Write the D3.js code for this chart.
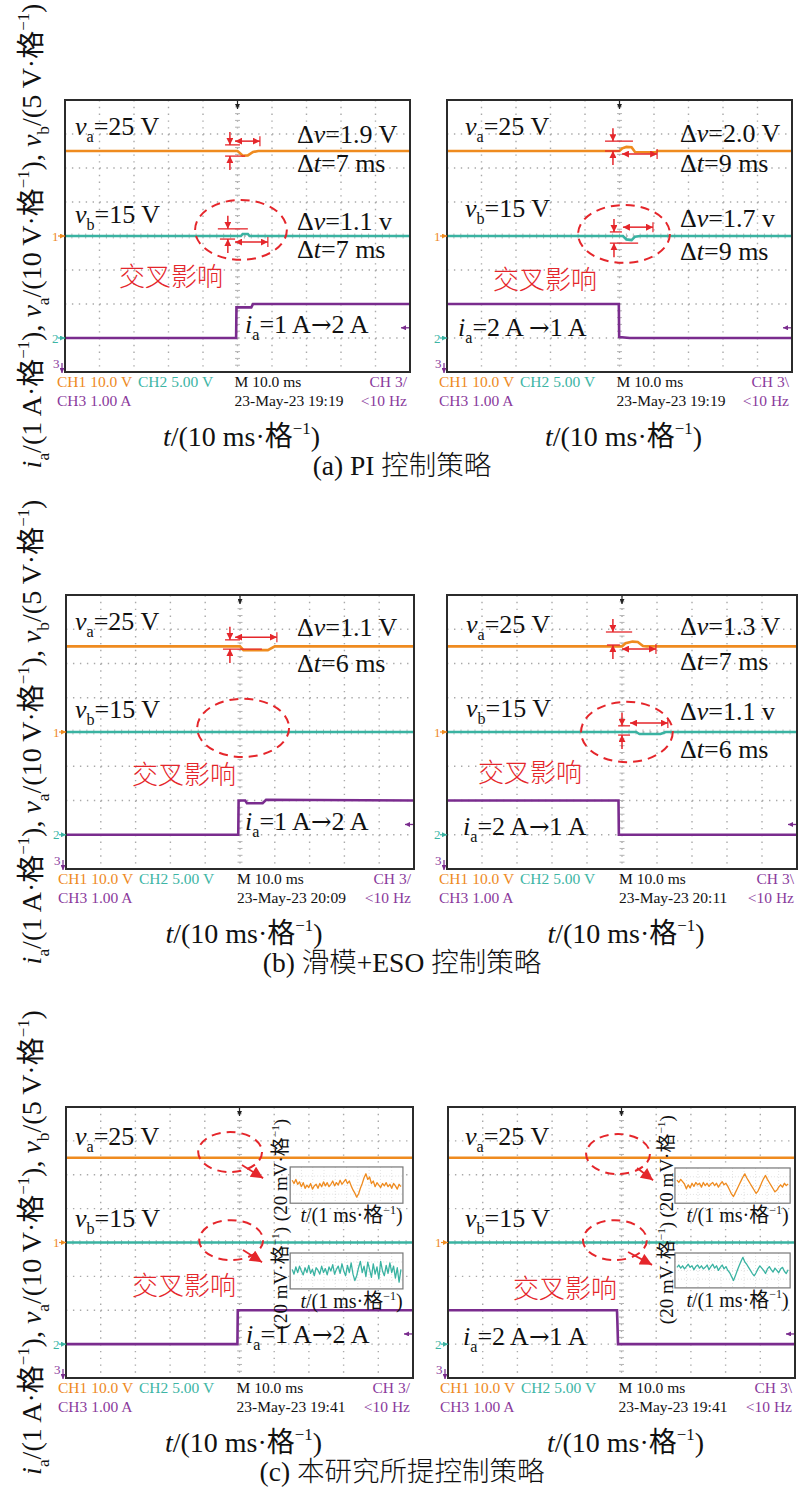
<!DOCTYPE html>
<html><head><meta charset="utf-8">
<script src="https://cdn.jsdelivr.net/npm/d3@7"></script>
<style>body{margin:0;background:#fff}svg{display:block}</style>
</head><body>
<svg id="chart" width="800" height="1491"></svg>
<script>
// ================= DATA =================
const rowCaptions = ["(a) PI 控制策略", "(b) 滑模+ESO 控制策略", "(c) 本研究所提控制策略"];
const yAxisLabel = "*i*_{a}/(1 A·格^{−1}), *v*_{a}/(10 V·格^{−1}), *v*_{b}/(5 V·格^{−1})";
const xAxisLabel = "*t*/(10 ms·格^{−1})";
const insetXLabel = "*t*/(1 ms·格^{−1})";
const insetYLabel = "(20 mV·格^{−1})";
const crossLabel = "交叉影响";
const chTexts = ["CH1 10.0 V", "CH2 5.00 V", "CH3 1.00 A", "M 10.0 ms", "<10 Hz"];
const timeStamps = ["23-May-23 19:19", "23-May-23 19:19", "23-May-23 20:09", "23-May-23 20:11", "23-May-23 19:41", "23-May-23 19:41"];
const trigSlopes = ["CH 3/", "CH 3\\", "CH 3/", "CH 3\\", "CH 3/", "CH 3\\"];
const vaLabel = "*v*_{a}=25 V";
const vbLabel = "*v*_{b}=15 V";
const iaLabels = ["*i*_{a}=1 A→2 A", "*i*_{a}=2 A →1 A", "*i*_{a}=1 A→2 A", "*i*_{a}=2 A→1 A", "*i*_{a}=1 A→2 A", "*i*_{a}=2 A→1 A"];
const dvLabels1 = ["Δ*v*=1.9 V", "Δ*v*=2.0 V", "Δ*v*=1.1 V", "Δ*v*=1.3 V", null, null];
const dtLabels1 = ["Δ*t*=7 ms", "Δ*t*=9 ms", "Δ*t*=6 ms", "Δ*t*=7 ms", null, null];
const dvLabels2 = ["Δ*v*=1.1 v", "Δ*v*=1.7 v", null, "Δ*v*=1.1 v", null, null];
const dtLabels2 = ["Δ*t*=7 ms", "Δ*t*=9 ms", null, "Δ*t*=6 ms", null, null];

// channel settings: units per division and ground position (divisions from centre)
const chPerDiv = [10, 5, 1];
const chGround = [0, -3, -4];
const trigLevel = 1.3; // A

// traces: [time (ms), value]
const vaTraces = [
  [[-50,25],[0,25],[0.5,24.6],[1.5,23.6],[3,23.7],[4.5,24.7],[6,25],[50,25]],
  [[-50,25],[0,25],[0.8,25.8],[2,26.2],[3.5,26.1],[4.5,24.7],[10.5,24.6],[11,25],[50,25]],
  [[-50,25],[0,25],[1,23.9],[8,23.9],[10,25],[50,25]],
  [[-50,25],[0,25],[1,25.9],[3,26.4],[4.5,26.3],[6,25.1],[7,25],[50,25]],
  [[-50,25],[50,25]],
  [[-50,25],[50,25]]
];
const vbTraces = [
  [[-50,15],[1,15],[1.5,15.3],[3,15.3],[3.5,15],[50,15]],
  [[-50,15],[1,15],[2,14.5],[3.5,14.4],[4.5,14.9],[6,15],[50,15]],
  [[-50,15],[50,15]],
  [[-50,15],[4,15],[5,14.7],[11,14.7],[12.5,15],[50,15]],
  [[-50,15],[50,15]],
  [[-50,15],[50,15]]
];
const iaTraces = [
  [[-50,1],[-0.4,1],[-0.3,1.9],[4,1.9],[4.5,2],[50,2]],
  [[-50,2],[-0.2,2],[-0.1,1.03],[3,1.0],[50,1]],
  [[-50,1],[-0.5,1],[-0.4,2.0],[1.5,2],[2,1.92],[6.5,1.92],[7.5,2.02],[50,2]],
  [[-50,2],[-1,2],[-0.9,1.0],[50,1]],
  [[-50,1],[-0.6,1],[-0.5,2],[50,2]],
  [[-50,2],[-1.3,2],[-1.2,1.7],[-1.0,1],[50,1]]
];
// zoomed insets (20 mV/div, normalised -1..1)
const insetVaC1 = [0.3,0.1,0.35,0.05,0.2,-0.1,0.15,-0.2,0.0,-0.15,0.1,-0.25,-0.05,0.05,-0.2,0.1,-0.1,0.2,-0.05,0.15,-0.1,0.05,0.25,-0.05,0.15,0.0,0.3,0.05,0.2,0.35,0.1,0.25,-0.05,-0.3,-0.5,-0.75,-0.55,-0.2,0.1,0.45,0.7,0.35,0.5,0.1,0.25,-0.1,0.15,0.0,-0.15,0.1,-0.05,0.15,-0.1,0.05,-0.2,0.1,-0.05,-0.25,0.05,-0.1];
const insetVbC1 = [0.1,-0.2,0.25,-0.1,0.3,0.0,-0.25,0.2,-0.1,0.35,-0.15,0.1,-0.3,0.2,0.05,-0.2,0.3,-0.1,0.15,-0.25,0.25,0.0,0.4,-0.2,0.1,0.3,-0.15,0.45,0.0,-0.3,0.35,-0.1,0.5,-0.2,-0.6,-0.3,0.2,0.6,-0.1,0.3,-0.35,0.55,0.1,-0.4,0.45,-0.2,0.25,-0.5,0.6,0.0,-0.3,0.35,-0.15,0.5,-0.1,0.3,-0.45,0.2,-0.7,0.1];
const insetVaC2 = [0.35,0.2,0.4,0.25,0.1,-0.2,0.05,-0.15,0.15,-0.05,0.2,0.05,0.15,-0.1,0.2,0.0,0.15,-0.05,0.1,0.2,0.0,0.15,-0.1,0.1,0.25,0.05,0.15,-0.05,-0.3,-0.55,-0.7,-0.45,-0.2,0.05,0.3,0.55,0.75,0.5,0.3,0.1,-0.1,-0.3,-0.5,-0.35,-0.1,0.2,0.45,0.65,0.4,0.2,0.0,-0.2,-0.4,-0.3,-0.1,0.05,-0.1,0.15,0.0,0.1];
const insetVbC2 = [0.2,0.35,0.15,0.3,0.1,0.25,0.4,0.2,0.3,0.05,0.25,0.35,0.15,0.3,0.1,0.2,0.35,0.05,0.25,0.4,0.15,0.3,0.0,0.2,0.35,0.1,0.25,0.0,-0.15,-0.4,-0.65,-0.35,0.0,0.3,0.6,0.85,0.55,0.4,0.2,0.0,-0.2,-0.35,-0.15,0.1,0.3,0.15,0.0,-0.2,0.1,0.25,0.05,-0.1,0.15,0.0,-0.15,0.1,0.2,-0.05,-0.2,0.05];

// ================= LAYOUT / STYLE =================
const ORANGE = "#EF8B1F", TEAL = "#3AB3A2", PURPLE = "#7A2C8E", RED = "#E5262B";
const ORANGE_T = "#EE8A1E", TEAL_T = "#3DB5A5", PURPLE_T = "#8A3A9C";
const FONT = "'Liberation Serif','Times New Roman','Noto Sans CJK SC',serif";
const CJK = "'Noto Sans CJK SC',sans-serif";
const ARROW_FONT = "'DejaVu Serif','DejaVu Sans',serif";

const frames = [
  {x0:65, x1:410, y0:100, y1:372}, {x0:447, x1:792, y0:100, y1:372},
  {x0:66, x1:414, y0:595, y1:869}, {x0:447, x1:797, y0:595, y1:869},
  {x0:66, x1:413, y0:1107, y1:1378}, {x0:448, x1:795, y0:1107, y1:1378}
];
// text offsets relative to frame top-left
const vaPos = [[10,35],[18,35],[9,35],[19,38],[9,38],[17,38]];
const vbPos = [[10,123],[18,117],[9,123],[19,122],[9,120],[17,120]];
const dv1Pos = [[232,43],[233,42],[231,41],[233,40]];
const dt1Pos = [[232,72],[233,72],[231,77],[233,75]];
const dv2Pos = [[232,130],[233,127],null,[233,125]];
const dt2Pos = [[232,158],[233,160],null,[233,163]];
const crossPos = [[54,186],[46,189],[66,189],[31,187],[66,188],[65,191]];
const iaPos = [[180,233],[11,236],[179,235],[16,240],[180,236],[15,238]];
// annotations in (ms, div) units
const annOrange = [
  {vx:-2.2, top:[2.68,-3.6,0.7], bot:[2.35,-3.6,2.2], dt:[2.79,-0.7,6.5]},
  {vx:-1.9, top:[2.79,-4.2,3.9], bot:[2.5,-4.2,0.1], dt:[2.41,0.7,10.9]},
  {vx:-2.9, top:[2.69,-4.3,0], bot:[2.42,-4.9,6.3], dt:[2.77,-1.4,10.6]},
  {vx:-2.6, top:[2.92,-4.6,2.9], bot:[2.54,-4.3,-0.6], dt:[2.42,0,9.7]},
  null, null];
const annTeal = [
  {vx:-2.8, top:[0.21,-5.7,3.0], bot:[-0.09,-5.1,-0.7], dt:[-0.18,-0.7,8.8]},
  {vx:-1.6, top:[0.12,-2.8,0.7], bot:[-0.21,-2.8,5.4], dt:[0.26,1.0,9.7]},
  null,
  {vx:0, top:[0.18,-1.1,2.3], bot:[-0.09,-1.1,2.3], dt:[0.26,2.3,13.1]},
  null, null];
const ellipses = [
  [{t:1.0,d:0.18,rt:13.3,rd:0.88}],
  [{t:1.3,d:0.06,rt:13.3,rd:0.85}],
  [{t:0.9,d:0.12,rt:13.2,rd:0.85}],
  [{t:1.4,d:0,rt:13.1,rd:0.88}],
  [{t:-2.7,d:2.67,rt:9.2,rd:0.59},{t:-2.4,d:0.07,rt:9.2,rd:0.59}],
  [{t:-1.0,d:2.61,rt:9.2,rd:0.59},{t:-1.9,d:0.07,rt:9.2,rd:0.59}]
];
const bigArrows = [[],[],[],[],
  [[[0.7,2.29],[6.8,1.9]],[[1.0,-0.22],[6.5,-0.58]]],
  [[[4.5,2.2],[9.1,1.84]],[[1.9,-0.28],[8.8,-0.66]]]];
const insets = [[],[],[],[],
  [{t0:14.6,t1:47.1,d0:1.16,d1:2.23,data:insetVaC1,color:ORANGE,labT:13.7,labD:2.14},
   {t0:14.6,t1:47.1,d0:-1.37,d1:-0.31,data:insetVbC1,color:TEAL,labT:13.7,labD:-1.05}],
  [{t0:15.4,t1:48.6,d0:1.16,d1:2.2,data:insetVaC2,color:ORANGE,labT:14.8,labD:2.25},
   {t0:15.4,t1:48.6,d0:-1.34,d1:-0.31,data:insetVbC2,color:TEAL,labT:14.8,labD:-0.9}]];

// ================= HELPERS =================
const svg = d3.select("#chart");
const defs = svg.append("defs");
function marker(id, w, h, color){
  defs.append("marker").attr("id", id).attr("viewBox","0 0 10 10").attr("refX",10).attr("refY",5)
    .attr("markerUnits","userSpaceOnUse").attr("markerWidth",w).attr("markerHeight",h)
    .attr("orient","auto-start-reverse")
    .append("path").attr("d","M0,0L10,5L0,10z").attr("fill",color);
}
marker("arR",7,7,RED); marker("arBig",13,12,RED); marker("arK",5,5,"#222");
marker("arO",5,5,ORANGE); marker("arT",5,5,TEAL); marker("arP",5,5,PURPLE);

function rich(sel, str, fs){
  const re = /\*([^*]+)\*|_\{([^}]*)\}|\^\{([^}]*)\}|(→)|([^*_^→]+)/g;
  let m, shift = 0;
  while ((m = re.exec(str))){
    let t, italic = false, target = 0, size = fs, fam = null;
    if (m[1] !== undefined){ t = m[1]; italic = true; }
    else if (m[2] !== undefined){ t = m[2]; target = 0.28*fs; size = 0.62*fs; }
    else if (m[3] !== undefined){ t = m[3]; target = -0.42*fs; size = 0.6*fs; }
    else if (m[4] !== undefined){ t = m[4]; fam = ARROW_FONT; size = 0.95*fs; }
    else t = m[5];
    const ts = sel.append("tspan").text(t).attr("font-size", size).attr("dy", target - shift);
    if (italic) ts.attr("font-style","italic");
    if (fam) ts.attr("font-family", fam);
    shift = target;
  }
  return sel;
}
function txt(g, x, y, str, fs, opts={}){
  const t = g.append("text").attr("x",x).attr("y",y).attr("font-family", opts.family||FONT)
    .attr("font-size",fs).attr("fill",opts.fill||"#111").attr("text-anchor",opts.anchor||"start");
  if (opts.transform) t.attr("transform", opts.transform);
  if (opts.plain) t.text(str); else rich(t, str, fs);
  return t;
}

// ================= DRAW =================
frames.forEach((f, p) => {
  const g = svg.append("g");
  const x = d3.scaleLinear().domain([-50,50]).range([f.x0, f.x1]);
  const y = d3.scaleLinear().domain([-4,4]).range([f.y1, f.y0]);
  const divX = (f.x1-f.x0)/10, divY = (f.y1-f.y0)/8;
  const cx = x(0), cy = y(0);

  // grid
  d3.range(-40,50,10).forEach(t => {
    g.append("line").attr("x1",x(t)).attr("x2",x(t)).attr("y1",f.y0).attr("y2",f.y1)
      .attr("stroke","#a9a9a9").attr("stroke-width",1.4).attr("stroke-dasharray",`1.4 ${divY/5-1.4}`);
  });
  d3.range(-3,4,1).forEach(d => {
    g.append("line").attr("y1",y(d)).attr("y2",y(d)).attr("x1",f.x0).attr("x2",f.x1)
      .attr("stroke","#a9a9a9").attr("stroke-width",1.4).attr("stroke-dasharray",`1.4 ${divX/5-1.4}`);
  });
  d3.range(-20,21).forEach(k => {
    const yy = y(k/5);
    g.append("line").attr("x1",cx-2.5).attr("x2",cx+2.5).attr("y1",yy).attr("y2",yy).attr("stroke","#b5b5b5").attr("stroke-width",1);
  });
  d3.range(-25,26).forEach(k => {
    const xx = x(k*2);
    g.append("line").attr("y1",cy-2.5).attr("y2",cy+2.5).attr("x1",xx).attr("x2",xx).attr("stroke","#b5b5b5").attr("stroke-width",1);
  });

  // traces
  const mkLine = ch => d3.line().x(d => x(d[0])).y(d => y(d[1]/chPerDiv[ch] + chGround[ch]));
  g.append("path").attr("d", mkLine(0)(vaTraces[p])).attr("fill","none").attr("stroke",ORANGE).attr("stroke-width",2.6);
  g.append("path").attr("d", mkLine(1)(vbTraces[p])).attr("fill","none").attr("stroke",TEAL).attr("stroke-width",2.6);
  g.append("path").attr("d", mkLine(2)(iaTraces[p])).attr("fill","none").attr("stroke",PURPLE).attr("stroke-width",2.6);

  // frame
  g.append("rect").attr("x",f.x0).attr("y",f.y0).attr("width",f.x1-f.x0).attr("height",f.y1-f.y0)
    .attr("fill","none").attr("stroke","#2b2b2b").attr("stroke-width",2);

  // trigger position marker (top) and level marker (right)
  g.append("line").attr("x1",cx).attr("x2",cx).attr("y1",f.y0+1).attr("y2",f.y0+9)
    .attr("stroke","#222").attr("stroke-width",1.2).attr("marker-end","url(#arK)");
  const ty = y(trigLevel/chPerDiv[2] + chGround[2]);
  g.append("line").attr("x1",f.x1-1).attr("x2",f.x1-9).attr("y1",ty).attr("y2",ty)
    .attr("stroke",PURPLE).attr("stroke-width",1.3).attr("marker-end","url(#arP)");

  // ground markers (left)
  const gm = [[ "1", ORANGE_T, "arO", chGround[0]], ["2", TEAL_T, "arT", chGround[1]]];
  gm.forEach(([lab, col, mid, d]) => {
    txt(g, f.x0-13, y(d)+4.5, lab, 13, {fill:col, plain:true});
    g.append("line").attr("x1",f.x0-7).attr("x2",f.x0).attr("y1",y(d)).attr("y2",y(d))
      .attr("stroke",col).attr("stroke-width",1.2).attr("marker-end",`url(#${mid})`);
  });
  txt(g, f.x0-12, f.y1-4, "3", 13, {fill:PURPLE_T, plain:true});
  g.append("line").attr("x1",f.x0-3).attr("x2",f.x0-3).attr("y1",f.y1-9).attr("y2",f.y1+1)
    .attr("stroke",PURPLE).attr("stroke-width",1.2).attr("marker-end","url(#arP)");

  // dashed ellipses
  ellipses[p].forEach(e => {
    g.append("ellipse").attr("cx",x(e.t)).attr("cy",y(e.d))
      .attr("rx",x(e.t+e.rt)-x(e.t)).attr("ry",y(e.d)-y(e.d+e.rd))
      .attr("fill","none").attr("stroke",RED).attr("stroke-width",2).attr("stroke-dasharray","9 6");
  });

  // Δv / Δt annotations
  [annOrange[p], annTeal[p]].forEach(a => {
    if (!a) return;
    const vx = x(a.vx);
    const yt = y(a.top[0]), yb = y(a.bot[0]);
    g.append("line").attr("x1",x(a.top[1])).attr("x2",x(a.top[2])).attr("y1",yt).attr("y2",yt).attr("stroke",RED).attr("stroke-width",1.3);
    g.append("line").attr("x1",x(a.bot[1])).attr("x2",x(a.bot[2])).attr("y1",yb).attr("y2",yb).attr("stroke",RED).attr("stroke-width",1.3);
    g.append("line").attr("x1",vx).attr("x2",vx).attr("y1",yt-13).attr("y2",yt).attr("stroke",RED).attr("stroke-width",1.5).attr("marker-end","url(#arR)");
    g.append("line").attr("x1",vx).attr("x2",vx).attr("y1",yb+14).attr("y2",yb).attr("stroke",RED).attr("stroke-width",1.5).attr("marker-end","url(#arR)");
    const yd = y(a.dt[0]);
    g.append("line").attr("x1",x(a.dt[1])).attr("x2",x(a.dt[2])).attr("y1",yd).attr("y2",yd)
      .attr("stroke",RED).attr("stroke-width",1.5).attr("marker-start","url(#arR)").attr("marker-end","url(#arR)");
    g.append("line").attr("x1",x(a.dt[2])).attr("x2",x(a.dt[2])).attr("y1",yd-5).attr("y2",yd+5).attr("stroke",RED).attr("stroke-width",1.2);
  });

  // big arrows (c)
  bigArrows[p].forEach(ar => {
    g.append("line").attr("x1",x(ar[0][0])).attr("y1",y(ar[0][1])).attr("x2",x(ar[1][0])).attr("y2",y(ar[1][1]))
      .attr("stroke",RED).attr("stroke-width",1.8).attr("marker-end","url(#arBig)");
  });

  // insets (c)
  insets[p].forEach(ins => {
    const bx0 = x(ins.t0), bx1 = x(ins.t1), by0 = y(ins.d1), by1 = y(ins.d0);
    const ig = g.append("g");
    ig.append("rect").attr("x",bx0).attr("y",by0).attr("width",bx1-bx0).attr("height",by1-by0).attr("fill","#fff");
    const ix = d3.scaleLinear().domain([0, ins.data.length-1]).range([bx0+2, bx1-2]);
    const iy = d3.scaleLinear().domain([-1,1]).range([by1-2, by0+2]);
    d3.range(1,10).forEach(k => {
      const xx = bx0 + k*(bx1-bx0)/10;
      ig.append("line").attr("x1",xx).attr("x2",xx).attr("y1",by0).attr("y2",by1).attr("stroke","#d4d4d4").attr("stroke-width",0.7).attr("stroke-dasharray","1 2");
    });
    d3.range(1,4).forEach(k => {
      const yy = by0 + k*(by1-by0)/4;
      ig.append("line").attr("y1",yy).attr("y2",yy).attr("x1",bx0).attr("x2",bx1).attr("stroke","#d4d4d4").attr("stroke-width",0.7).attr("stroke-dasharray","1 2");
    });
    ig.append("path").attr("d", d3.line().x((d,i)=>ix(i)).y(d=>iy(d))(ins.data))
      .attr("fill","none").attr("stroke",ins.color).attr("stroke-width",1.3).attr("stroke-linejoin","round");
    ig.append("rect").attr("x",bx0).attr("y",by0).attr("width",bx1-bx0).attr("height",by1-by0)
      .attr("fill","none").attr("stroke","#777").attr("stroke-width",1.2);
    txt(g, (bx0+bx1)/2+5, by1+19, insetXLabel, 20, {anchor:"middle"});
    txt(g, 0, 0, insetYLabel, 19, {anchor:"middle", transform:`translate(${x(ins.labT)},${y(ins.labD)}) rotate(-90)`});
  });

  // labels inside the screen
  const P = pos => [f.x0+pos[0], f.y0+pos[1]];
  txt(g, ...P(vaPos[p]), vaLabel, 26);
  txt(g, ...P(vbPos[p]), vbLabel, 26);
  if (dvLabels1[p]) txt(g, ...P(dv1Pos[p]), dvLabels1[p], 26);
  if (dtLabels1[p]) txt(g, ...P(dt1Pos[p]), dtLabels1[p], 26);
  if (dvLabels2[p]) txt(g, ...P(dv2Pos[p]), dvLabels2[p], 26);
  if (dtLabels2[p]) txt(g, ...P(dt2Pos[p]), dtLabels2[p], 26);
  txt(g, ...P(crossPos[p]), crossLabel, 26, {fill:RED, family:CJK, plain:true}).attr("font-weight",300);
  txt(g, ...P(iaPos[p]), iaLabels[p], 26);

  // scope readout text
  const fs = 15.5, r1 = f.y1+15, r2 = f.y1+34;
  txt(g, f.x0-8, r1, chTexts[0], fs, {fill:ORANGE_T, plain:true});
  txt(g, f.x0+73, r1, chTexts[1], fs, {fill:TEAL_T, plain:true});
  txt(g, cx-3, r1, chTexts[3], fs, {fill:"#111", plain:true});
  txt(g, f.x1-3, r1, trigSlopes[p], fs, {fill:PURPLE_T, plain:true, anchor:"end"});
  txt(g, f.x0-8, r2, chTexts[2], fs, {fill:PURPLE_T, plain:true});
  txt(g, cx-3, r2, timeStamps[p], fs, {fill:"#111", plain:true});
  txt(g, f.x1-3, r2, chTexts[4], fs, {fill:PURPLE_T, plain:true, anchor:"end"});

  // time axis label
  txt(g, cx+4, f.y1+74, xAxisLabel, 28, {anchor:"middle"});
});

// row labels and captions
[0,1,2].forEach(r => {
  const fl = frames[r*2];
  const cy = (fl.y0+fl.y1)/2;
  txt(svg, 0, 0, yAxisLabel, 28, {anchor:"middle", transform:`translate(41,${cy}) rotate(-90)`});
  txt(svg, 402, fl.y1+103, rowCaptions[r], 27.5, {anchor:"middle", plain:true}).attr("font-weight",300);
});
</script>
</body></html>
